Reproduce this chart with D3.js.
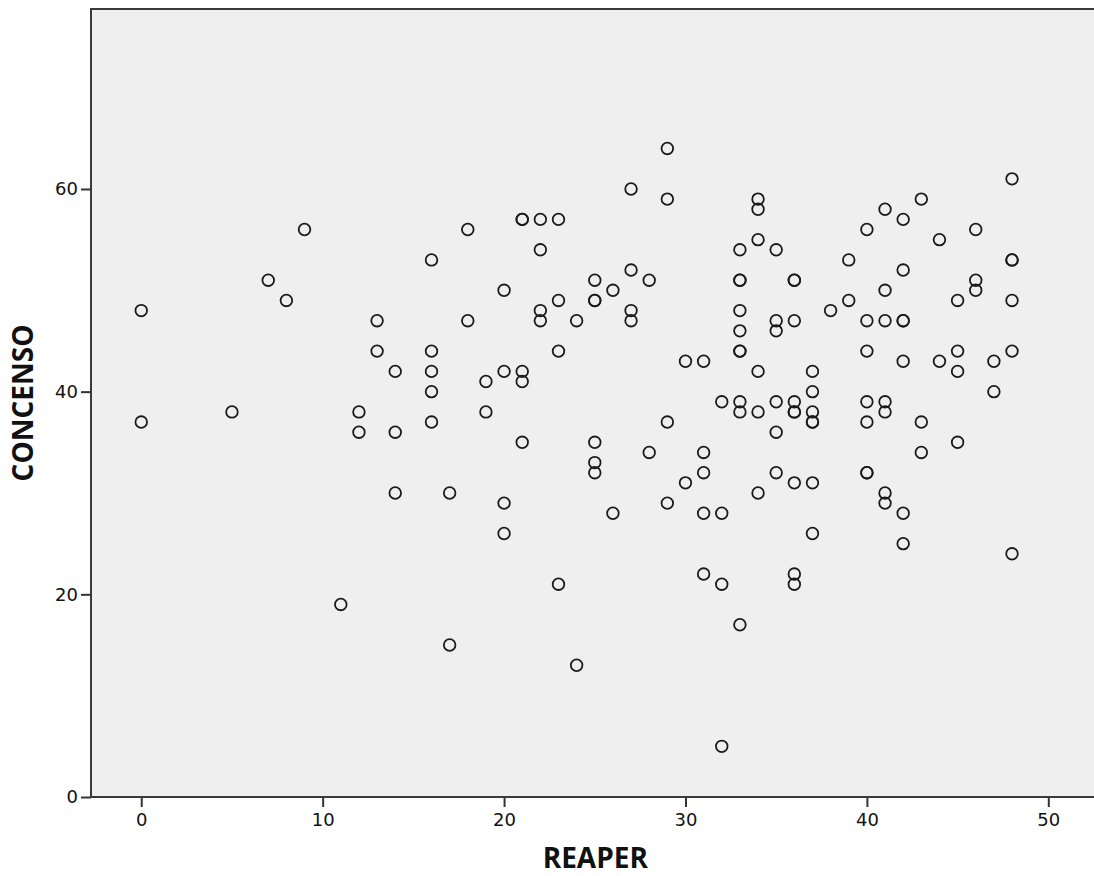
<!DOCTYPE html>
<html>
<head>
<meta charset="utf-8">
<script src="https://cdnjs.cloudflare.com/ajax/libs/d3/7.8.5/d3.min.js"></script>
<style>
    html, body { margin: 0; padding: 0; background: #fff; }
    #scatter-chart { width: 1094px; height: 876px; }
    .axis text { font-family: "DejaVu Sans", sans-serif; font-size: 18px; fill: #111; }
    .axis line { stroke: #333; stroke-width: 2; }
    .axis-title { font-family: "Open Sans", sans-serif; font-weight: bold; font-size: 28px; fill: #111; }
</style>
</head>
<body>
<div id="scatter-chart"></div>
<script>
// REAPER (x) / CONCENSO (y), one entry per case
var reaper = [
    0, 0, 5, 7, 8, 9, 11, 12, 12, 13, 13, 14, 14, 14,
    16, 16, 16, 16, 16, 17, 17, 18, 18, 19, 19,
    20, 20, 20, 20, 21, 21, 21, 21, 21, 22, 22, 22, 22,
    23, 23, 23, 23, 24, 24, 25, 25, 25, 25, 25, 25,
    26, 26, 27, 27, 27, 27, 28, 28, 29, 29, 29, 29,
    30, 30, 31, 31, 31, 31, 31, 32, 32, 32, 32,
    33, 33, 33, 33, 33, 33, 33, 33, 33, 33,
    34, 34, 34, 34, 34, 34, 35, 35, 35, 35, 35, 35,
    36, 36, 36, 36, 36, 36, 36, 36, 36,
    37, 37, 37, 37, 37, 37, 37, 38, 39, 39,
    40, 40, 40, 40, 40, 40, 40, 41, 41, 41, 41, 41, 41, 41,
    42, 42, 42, 42, 42, 42, 42, 43, 43, 43, 44, 44,
    45, 45, 45, 45, 46, 46, 46, 47, 47,
    48, 48, 48, 48, 48, 48
];
var concenso = [
    48, 37, 38, 51, 49, 56, 19, 38, 36, 47, 44, 42, 36, 30,
    53, 44, 42, 40, 37, 30, 15, 56, 47, 41, 38,
    50, 42, 29, 26, 57, 57, 42, 41, 35, 57, 54, 48, 47,
    57, 49, 44, 21, 47, 13, 51, 49, 49, 35, 33, 32,
    50, 28, 60, 52, 48, 47, 51, 34, 64, 59, 37, 29,
    43, 31, 43, 34, 32, 28, 22, 39, 28, 21, 5,
    54, 51, 51, 48, 46, 44, 44, 39, 38, 17,
    59, 58, 55, 42, 38, 30, 54, 47, 46, 39, 36, 32,
    51, 51, 47, 39, 38, 38, 31, 22, 21,
    42, 40, 38, 37, 37, 31, 26, 48, 53, 49,
    56, 47, 44, 39, 37, 32, 32, 58, 50, 47, 39, 38, 30, 29,
    57, 52, 47, 47, 43, 28, 25, 59, 37, 34, 55, 43,
    49, 44, 42, 35, 56, 51, 50, 43, 40,
    61, 53, 53, 49, 44, 24
];
var xTicks = [0, 10, 20, 30, 40, 50];
var yTicks = [0, 20, 40, 60];
var xDomain = [-2.77, 52.85];
var yDomain = [0, 77.76];
var xTitle = 'REAPER';
var yTitle = 'CONCENSO';

var containerWidth = 1094;
var containerHeight = 876;
var plot = {left: 91, top: 9, right: 1100, bottom: 797};

var x = d3.scaleLinear()
    .domain(xDomain)
    .range([plot.left, plot.right]);

var y = d3.scaleLinear()
    .domain(yDomain)
    .range([plot.bottom, plot.top]);

var svg = d3.select('#scatter-chart').append('svg')
    .attr('width', containerWidth)
    .attr('height', containerHeight);

// grey plot background
svg.append('rect')
    .attr('x', plot.left)
    .attr('y', plot.top)
    .attr('width', plot.right - plot.left)
    .attr('height', plot.bottom - plot.top)
    .attr('fill', '#efefef');

var xAxis = d3.axisBottom(x)
    .tickValues(xTicks)
    .tickSize(10)
    .tickPadding(6)
    .tickFormat(d3.format('d'));

var yAxis = d3.axisLeft(y)
    .tickValues(yTicks)
    .tickSize(10)
    .tickPadding(3)
    .tickFormat(d3.format('d'));

svg.append('g')
    .attr('class', 'x axis')
    .attr('transform', 'translate(0,' + plot.bottom + ')')
    .call(xAxis)
    .call(function(g){ g.select('.domain').remove(); });

svg.append('g')
    .attr('class', 'y axis')
    .attr('transform', 'translate(' + plot.left + ',0)')
    .call(yAxis)
    .call(function(g){ g.select('.domain').remove(); });

// frame: left, top, bottom (right side runs off the page)
svg.append('path')
    .attr('d', 'M' + plot.right + ',' + plot.top + 'H' + plot.left + 'V' + plot.bottom + 'H' + plot.right)
    .attr('fill', 'none')
    .attr('stroke', '#3a3a3a')
    .attr('stroke-width', 2);

svg.append('g')
    .selectAll('circle')
    .data(reaper)
    .enter().append('circle')
    .attr('cx', function(d){ return x(d); })
    .attr('cy', function(d, i){ return y(concenso[i]); })
    .attr('r', 5.8)
    .attr('fill', 'none')
    .attr('stroke', '#1a1a1a')
    .attr('stroke-width', 1.8);

// kept a few px higher so the text box stays inside the page
svg.append('text')
    .attr('class', 'axis-title')
    .attr('x', (x(0) + x(50)) / 2 + 0.5)
    .attr('y', 868)
    .attr('text-anchor', 'middle')
    .text(xTitle);

svg.append('text')
    .attr('class', 'axis-title')
    .attr('transform', 'translate(33,' + 403 + ') rotate(-90)')
    .attr('text-anchor', 'middle')
    .text(yTitle);
</script>
</body>
</html>
